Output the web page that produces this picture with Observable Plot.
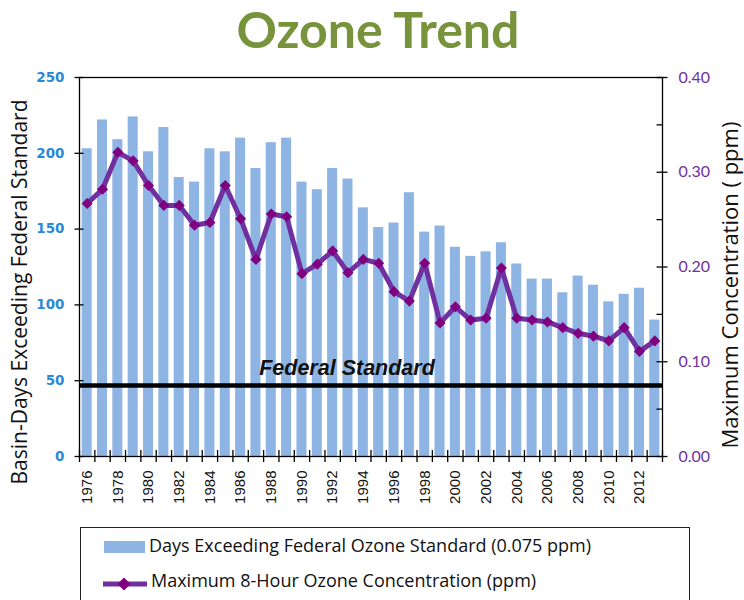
<!DOCTYPE html>
<html><head><meta charset="utf-8">
<script src="https://cdn.jsdelivr.net/npm/d3@7"></script>
<script src="https://cdn.jsdelivr.net/npm/@observablehq/plot@0.6"></script>
<style>
body{margin:0;background:#fff;width:744px;height:600px;overflow:hidden;position:relative;font-family:Lato,sans-serif}
#title{position:absolute;top:-1px;left:6px;width:744px;text-align:center;font:bold 50px Lato,sans-serif;color:#77933C;line-height:normal}
#chart{position:absolute;top:60px;left:0}
#chart g[aria-label="x-axis tick label"]{font-size:15px;font-family:"Liberation Sans",sans-serif}
#legend{position:absolute;top:527px;left:80px;width:610px;height:90px;border:1.5px solid #222;box-sizing:border-box}
.lt{position:absolute;font:18px "Open Sans",sans-serif;color:#111;white-space:nowrap;line-height:normal}
</style></head>
<body>
<div id="title">Ozone Trend</div>
<div id="chart"></div>
<div id="legend">
  <div style="position:absolute;left:23px;top:12.5px;width:41px;height:12px;background:#8DB4E2"></div>
  <div class="lt" style="left:68px;top:5px">Days Exceeding Federal Ozone Standard (0.075 ppm)</div>
  <svg style="position:absolute;left:20px;top:44px" width="50" height="24">
    <line x1="2" y1="12" x2="46" y2="12" stroke="#7030A0" stroke-width="5"/>
    <path d="M23,5.5L29.5,12L23,18.5L16.5,12Z" fill="#800080"/>
  </svg>
  <div class="lt" style="left:70px;top:40px">Maximum 8-Hour Ozone Concentration (ppm)</div>
</div>
<script>
const years = [1976,1977,1978,1979,1980,1981,1982,1983,1984,1985,1986,1987,1988,1989,1990,1991,1992,1993,1994,1995,1996,1997,1998,1999,2000,2001,2002,2003,2004,2005,2006,2007,2008,2009,2010,2011,2012,2013];
const days = [203,222,209,224,201,217,184,181,203,201,210,190,207,210,181,176,190,183,164,151,154,174,148,152,138,132,135,141,127,117,117,108,119,113,102,107,111,90];
const ppm = [0.267,0.282,0.321,0.312,0.286,0.265,0.265,0.244,0.247,0.286,0.251,0.208,0.256,0.253,0.193,0.203,0.217,0.194,0.208,0.204,0.174,0.164,0.204,0.141,0.158,0.144,0.146,0.199,0.146,0.144,0.142,0.136,0.130,0.127,0.122,0.136,0.111,0.122];
const labelYears = [1976,1978,1980,1982,1984,1986,1988,1990,1992,1994,1996,1998,2000,2002,2004,2006,2008,2010,2012];
const daysTicks = [0,50,100,150,200,250];
const ppmTicks = [0,0.10,0.20,0.30,0.40];
const ppmMinorTicks = [0.05,0.15,0.25,0.35];
const standard = [{label:"Federal Standard", ppm:0.075}];
const leftTitle = "Basin-Days Exceeding Federal Standard";
const rightTitle = "Maximum Concentration ( ppm)";

const k = 250 / 0.4; // ppm -> days axis mapping
const data = years.map((year, i) => ({year, days: days[i], ppm: ppm[i]}));
const x0 = years[0] - 0.5, x1 = years[years.length - 1] + 0.5;
const bounds = years.map(y => y - 0.5).concat([x1]);

const chart = Plot.plot({
  width: 744, height: 465,
  marginTop: 17, marginBottom: 69, marginLeft: 79, marginRight: 82,
  x: {type: "linear", domain: [x0, x1]},
  y: {domain: [0, 250]},
  style: {fontFamily: "Lato, sans-serif", background: "transparent"},
  marks: [
    Plot.rect(data, {x1: d => d.year - 0.5, x2: d => d.year + 0.5, y1: 0, y2: "days", fill: "#8DB4E2", insetLeft: 2.66, insetRight: 2.66}),
    Plot.ruleY(standard, {y: d => d.ppm * k, stroke: "#000", strokeWidth: 4.5}),
    Plot.text(standard, {text: "label", y: d => d.ppm * k, frameAnchor: "middle", textAnchor: "middle", dx: -24, dy: -17, fontStyle: "italic", fontWeight: "bold", fontFamily: "Liberation Sans", fontSize: 21.5, fill: "#111"}),
    Plot.line(data, {x: "year", y: d => d.ppm * k, stroke: "#7030A0", strokeWidth: 5}),
    Plot.dot(data, {x: "year", y: d => d.ppm * k, symbol: "diamond2", r: 5, fill: "#800080"}),
    Plot.frame({stroke: "#000", strokeWidth: 1.3}),
    Plot.ruleY(daysTicks, {y: d => d, x1: x0, x2: x0, insetLeft: -4.5, insetRight: -4.5, stroke: "#000", strokeWidth: 1.3}),
    Plot.ruleY(ppmTicks, {y: d => d * k, x1: x1, x2: x1, insetLeft: -5.5, insetRight: -5.5, stroke: "#000", strokeWidth: 1.3}),
    Plot.ruleY(ppmMinorTicks, {y: d => d * k, x1: x1, x2: x1, insetLeft: -5.5, insetRight: 0, stroke: "#000", strokeWidth: 1.3}),
    Plot.ruleX(bounds, {x: d => d, y1: 0, y2: 0, insetTop: -6, insetBottom: -6, stroke: "#000", strokeWidth: 1.3}),
    Plot.axisX({ticks: labelYears, tickFormat: d => String(d), tickSize: 0, tickPadding: 14, tickRotate: -90, fontSize: 15, fontFamily: "Liberation Sans", color: "#111", label: null}),
    Plot.axisY({ticks: daysTicks, tickSize: 0, tickPadding: 15, fontSize: 13.5, fontWeight: "bold", fontFamily: "DejaVu Sans", color: "#2B88D8", label: null}),
    Plot.axisY({anchor: "right", ticks: ppmTicks.map(t => t * k), tickFormat: d => (d / k).toFixed(2), tickSize: 0, tickPadding: 16, fontSize: 16, color: "#7030A0", label: null}),
    Plot.text([leftTitle], {text: d => d, frameAnchor: "left", textAnchor: "middle", rotate: -90, dx: -59, dy: 25, fontSize: 21, fontFamily: "Open Sans", fill: "#111"}),
    Plot.text([rightTitle], {text: d => d, frameAnchor: "right", textAnchor: "middle", rotate: -90, dx: 68, dy: 18, fontSize: 22, fontFamily: "Open Sans", fill: "#111"})
  ]
});
document.getElementById("chart").appendChild(chart);
</script>
</body></html>
